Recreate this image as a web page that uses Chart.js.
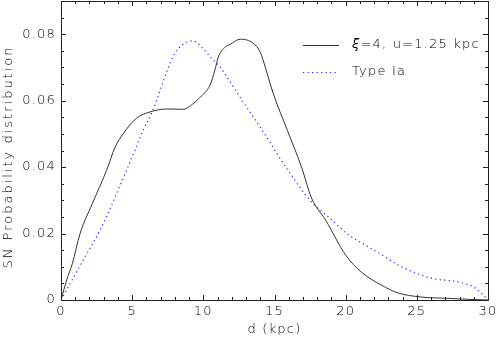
<!DOCTYPE html>
<html>
<head>
<meta charset="utf-8">
<script src="https://cdn.jsdelivr.net/npm/chart.js@4/dist/chart.umd.min.js"></script>
<style>
  html, body { margin: 0; padding: 0; background: #fff; }
  #wrap { width: 498px; height: 341px; }
</style>
</head>
<body>
<div id="wrap"><canvas id="chart" width="498" height="341"></canvas></div>
<script>
// solid curve: xi=4, u=1.25 kpc
const distSolid = [0, 0.4, 0.8, 1.34, 2.2, 3.2, 3.8, 4.36, 5.3, 6.25, 7.45, 8.6, 9.07, 9.77, 10.47, 10.8, 11.05, 11.5, 11.9, 12.6, 13.5, 14.0, 14.2, 14.9, 15.9, 16.9, 17.6, 18.6, 20.0, 21.1, 22.5, 23.7, 25.3, 27.2, 28.6, 30];
const probSolid = [0, 0.006, 0.011, 0.020, 0.029, 0.039, 0.046, 0.050, 0.0547, 0.0566, 0.0575, 0.0574, 0.0584, 0.061, 0.0647, 0.069, 0.0731, 0.076, 0.077, 0.0785, 0.0773, 0.0746, 0.0722, 0.0623, 0.0511, 0.040, 0.0307, 0.024, 0.0135, 0.0084, 0.0045, 0.0021, 0.0009, 0.0005, 0.0002, 0];

// dotted curve: Type Ia
const distIa = [0, 1.69, 2.74, 3.6, 4.5, 5.2, 5.76, 6.4, 6.96, 7.45, 8.0, 8.6, 9.28, 9.9, 10.5, 11.2, 11.7, 12.8, 14.0, 15.8, 17.6, 18.9, 20.2, 21.4, 22.5, 23.7, 26.0, 27.9, 29.1, 30];
const probIa = [0, 0.013, 0.021, 0.029, 0.038, 0.0451, 0.051, 0.0566, 0.063, 0.069, 0.0743, 0.077, 0.078, 0.076, 0.0731, 0.070, 0.0668, 0.0596, 0.052, 0.040, 0.0295, 0.0246, 0.0196, 0.0165, 0.0137, 0.0105, 0.0066, 0.0054, 0.0036, 0];

const xTicks = [0, 5, 10, 15, 20, 25, 30];
const yTicks = [0, 0.02, 0.04, 0.06, 0.08];
const legendLabels = ["=4, u=1.25 kpc", "Type Ia"];
const yTitle = "SN Probability distribution";

const FONT = "'DejaVu Sans', 'Liberation Sans', sans-serif";
const WEIGHT = 200;
const INK = "#000";
const SPACING = "1.2px";

function toPoints(xs, ys) {
    return xs.map((x, i) => ({ x: x, y: ys[i] }));
}

function noPad(s) {
    s.paddingTop = 0;
    s.paddingBottom = 0;
    s.paddingLeft = 0;
    s.paddingRight = 0;
}

// wider letter spacing, like the original plotting font
const spacingPlugin = {
    id: "spacing",
    beforeLayout(chart) { chart.ctx.letterSpacing = SPACING; },
    beforeDraw(chart) { chart.ctx.letterSpacing = SPACING; }
};

// frame with inward ticks on all four sides, y title and the legend
const framePlugin = {
    id: "frame",
    afterDraw(chart) {
        const { ctx, chartArea: a, scales } = chart;
        const xs = scales.x, ys = scales.y;
        ctx.save();
        ctx.strokeStyle = "#222";
        ctx.lineWidth = 1;
        ctx.strokeRect(Math.round(a.left) + 0.5, Math.round(a.top) + 0.5,
            Math.round(a.right - a.left), Math.round(a.bottom - a.top));
        ctx.beginPath();
        for (let v = 0; v <= 30; v += 1) {
            const px = Math.round(xs.getPixelForValue(v)) + 0.5;
            const len = v % 5 === 0 ? 5 : 3;
            ctx.moveTo(px, a.bottom); ctx.lineTo(px, a.bottom - len);
            ctx.moveTo(px, a.top); ctx.lineTo(px, a.top + len);
        }
        for (let i = 0; i <= 18; i++) {
            const py = Math.round(ys.getPixelForValue(i * 0.005)) + 0.5;
            const len = i % 4 === 0 ? 5 : 3;
            ctx.moveTo(a.left, py); ctx.lineTo(a.left + len, py);
            ctx.moveTo(a.right, py); ctx.lineTo(a.right - len, py);
        }
        ctx.stroke();

        // y axis title
        ctx.save();
        ctx.letterSpacing = "2px";
        ctx.font = WEIGHT + " 13px " + FONT;
        ctx.fillStyle = INK;
        ctx.textAlign = "center";
        ctx.textBaseline = "middle";
        ctx.translate(9, 157);
        ctx.rotate(-Math.PI / 2);
        ctx.fillText(yTitle, 0, 0);
        ctx.restore();

        const ds = chart.data.datasets;
        const rows = [45, 72];
        ctx.textBaseline = "middle";
        ctx.letterSpacing = SPACING;
        ds.forEach((d, i) => {
            const y = rows[i] + 0.5;
            ctx.beginPath();
            ctx.strokeStyle = d.borderColor;
            ctx.lineWidth = d.borderWidth;
            ctx.setLineDash(d.borderDash || []);
            ctx.moveTo(303, y); ctx.lineTo(339, y);
            ctx.stroke();
            ctx.setLineDash([]);
            ctx.fillStyle = INK;
            let tx = 352;
            if (i === 0) {
                ctx.font = "italic " + WEIGHT + " 13px " + FONT;
                ctx.fillText("\u03BE", tx, rows[i]);
                tx += ctx.measureText("\u03BE").width;
            }
            ctx.font = WEIGHT + " 13px " + FONT;
            ctx.fillText(legendLabels[i], tx, rows[i]);
        });
        ctx.restore();
    }
};

const tickFont = { family: FONT, size: 13, weight: WEIGHT };

new Chart(document.getElementById("chart").getContext("2d"), {
    type: "line",
    data: {
        datasets: [{
            label: "xi=4, u=1.25 kpc",
            data: toPoints(distSolid, probSolid),
            borderColor: "#333",
            borderWidth: 1,
            pointRadius: 0,
            cubicInterpolationMode: "monotone",
            fill: false
        }, {
            label: "Type Ia",
            data: toPoints(distIa, probIa),
            borderColor: "#2323ff",
            borderWidth: 1.2,
            borderDash: [1.2, 3.3],
            pointRadius: 0,
            cubicInterpolationMode: "monotone",
            fill: false
        }]
    },
    options: {
        responsive: false,
        devicePixelRatio: 1,
        animation: false,
        layout: { padding: { top: 1, right: 10, left: 0, bottom: 0 } },
        plugins: {
            legend: { display: false },
            tooltip: { enabled: false }
        },
        scales: {
            x: {
                type: "linear",
                min: 0,
                max: 30,
                afterBuildTicks: s => { s.ticks = xTicks.map(v => ({ value: v })); },
                afterFit: s => { s.height = 41; noPad(s); },
                grid: { display: false, drawTicks: false, tickLength: 0 },
                border: { display: false },
                ticks: { color: INK, padding: 4, font: tickFont },
                title: { display: true, text: "d (kpc)", color: INK, padding: { top: 1 }, font: tickFont }
            },
            y: {
                min: 0,
                max: 0.09,
                afterBuildTicks: s => { s.ticks = yTicks.map(v => ({ value: v })); },
                afterFit: s => { s.width = 61; noPad(s); },
                grid: { display: false, drawTicks: false, tickLength: 0 },
                border: { display: false },
                ticks: {
                    color: INK,
                    padding: 5,
                    font: tickFont,
                    callback: v => v === 0 ? "0" : v.toFixed(2)
                }
            }
        }
    },
    plugins: [spacingPlugin, framePlugin]
});
</script>
</body>
</html>
